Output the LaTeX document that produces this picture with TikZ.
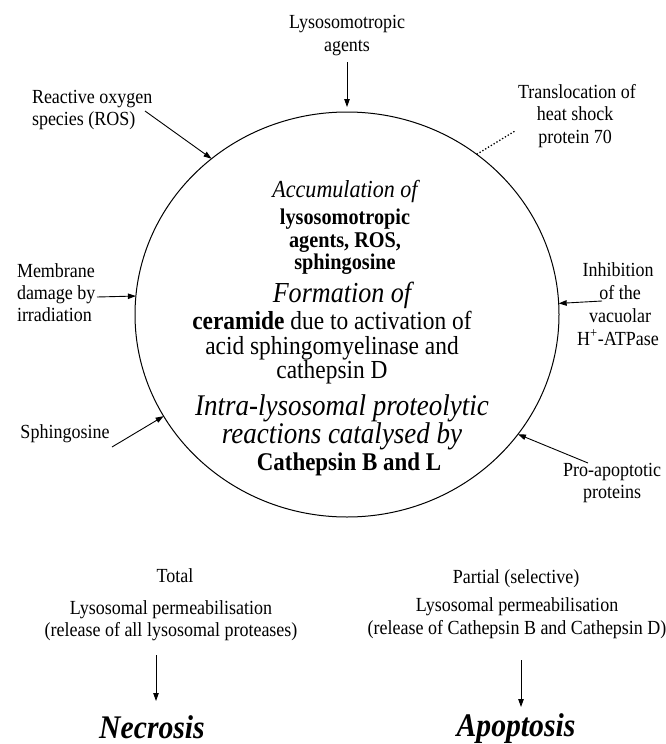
\documentclass[tikz,border=0pt]{standalone}
\usepackage{fontspec}
\setmainfont{Liberation Serif}[FakeStretch=0.9]
\usetikzlibrary{arrows.meta,shapes.geometric}
\begin{document}
\begin{tikzpicture}[x=1pt,y=-1pt,
  lbl/.style={font=\fontsize{20}{22.5}\selectfont, inner sep=0, outer sep=0, anchor=base},
  lblw/.style={lbl, anchor=base west},
  inner/.style={font=\fontsize{26}{28}\selectfont, inner sep=0, outer sep=0, anchor=base},
  innerit/.style={font=\fontsize{30}{32}\selectfont\itshape, inner sep=0, outer sep=0, anchor=base},
  innerbf/.style={font=\fontsize{22.5}{24}\selectfont\bfseries, inner sep=0, outer sep=0, anchor=base},
  fate/.style={font=\fontsize{33}{35}\selectfont\bfseries\itshape, inner sep=0, outer sep=0, anchor=base},
  arr/.style={-{Triangle[length=8pt,width=5.5pt]}, line width=0.9pt},
  dotline/.style={line width=1.3pt, dotted}
]
\useasboundingbox (0,0) rectangle (665,744);

% lysosome
\node[draw, ellipse, minimum width=424pt, minimum height=405pt, inner sep=0, outer sep=0, line width=1pt] (lys) at (347,314.5) {};

% inner text
\node[font=\fontsize{24.5}{26}\selectfont\itshape, inner sep=0, anchor=base] (acc) at (345,197) {Accumulation of};
\node[innerbf] (acc1) at (345,224) {lysosomotropic};
\node[innerbf] (acc2) at (345,247) {agents, ROS,};
\node[innerbf] (acc3) at (345,269) {sphingosine};

\node[font=\fontsize{29}{31}\selectfont\itshape, inner sep=0, anchor=base] (form) at (342,302) {Formation of};
\node[inner] (form1) at (332,329) {\textbf{ceramide} due to activation of};
\node[inner] (form2) at (332,354) {acid sphingomyelinase and};
\node[inner] (form3) at (332,378) {cathepsin D};

\node[innerit] (intra1) at (342,415) {Intra-lysosomal proteolytic};
\node[innerit] (intra2) at (342,443) {reactions catalysed by};
\node[font=\fontsize{25.5}{27}\selectfont\bfseries, inner sep=0, anchor=base] (intra3) at (349,470) {Cathepsin B and L};

% outer labels
\node[lbl] (lyso1) at (347,28) {Lysosomotropic};
\node[lbl] (lyso2) at (347,51) {agents};
\coordinate (lysoS) at (347,62);
\draw[arr, shorten >=5pt] (lysoS) -- (lys.north);

\node[lblw] (ros1) at (32,103) {Reactive oxygen};
\node[lblw] (ros2) at (32,125) {species (ROS)};
\coordinate (rosS) at (145,111);
\draw[arr] (rosS) -- (lys.131);

\node[lbl] (hsp1) at (577,98) {Translocation of};
\node[lbl] (hsp2) at (575,120) {heat shock};
\node[lbl] (hsp3) at (575,143) {protein 70};
\coordinate (hspE) at (515,131);
\draw[dotline] (lys.51) -- (hspE);

\node[lblw] (mem1) at (17,277) {Membrane};
\node[lblw] (mem2) at (17,299) {damage by};
\node[lblw] (mem3) at (17,321) {irradiation};
\coordinate (memS) at (97,297);
\draw[arr] (memS) -- (lys.175);

\node[lbl] (inh1) at (618,276) {Inhibition};
\node[lbl] (inh2) at (620,299) {of the};
\node[lbl] (inh3) at (620,322) {vacuolar};
\node[lbl] (inh4) at (618,345) {H\textsuperscript{+}-ATPase};
\coordinate (inhS) at (602,301);
\draw[arr] (inhS) -- (lys.3.6);

\node[lbl] (sph) at (65,438) {Sphingosine};
\coordinate (sphS) at (112,447);
\draw[arr] (sphS) -- (lys.209.8);

\node[lbl] (pro1) at (612,476) {Pro-apoptotic};
\node[lbl] (pro2) at (612,498) {proteins};
\coordinate (proS) at (588,463);
\draw[arr] (proS) -- (lys.325.2);

% bottom
\node[lbl] (tot) at (175,582) {Total};
\node[lbl] (totA) at (171,614) {Lysosomal permeabilisation};
\node[lbl] (totB) at (171,636) {(release of all lysosomal proteases)};
\coordinate (necS) at (156,655);
\coordinate (necE) at (156,701);
\draw[arr] (necS) -- (necE);
\node[fate] (nec) at (152,738) {Necrosis};

\node[lbl] (par) at (516,583) {Partial (selective)};
\node[lbl] (parA) at (517,611) {Lysosomal permeabilisation};
\node[lbl] (parB) at (517,634) {(release of Cathepsin B and Cathepsin D)};
\coordinate (apoS) at (521,660);
\coordinate (apoE) at (521,707);
\draw[arr] (apoS) -- (apoE);
\node[fate] (apo) at (516,736) {Apoptosis};
\end{tikzpicture}
\end{document}
